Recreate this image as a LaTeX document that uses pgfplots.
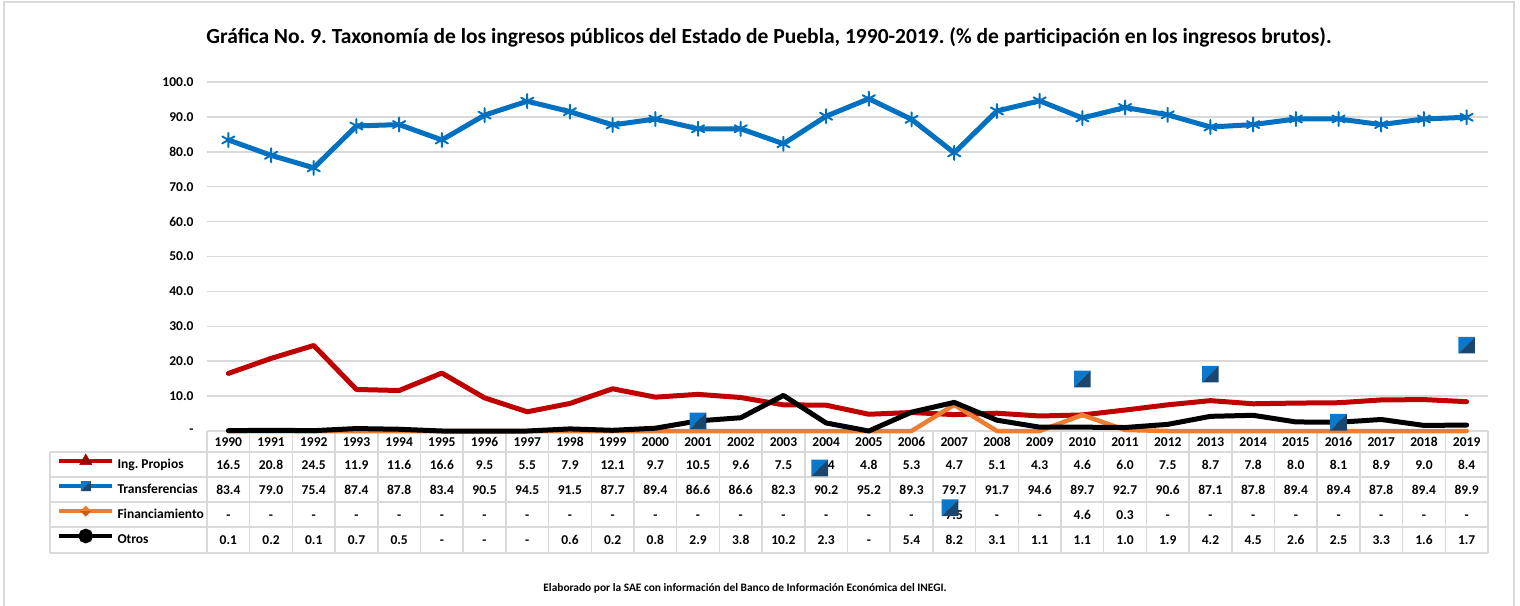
\documentclass[border=0pt]{standalone}
\usepackage{pgfplots}
\pgfplotsset{compat=1.18}
\usepackage{fontspec}
\setmainfont{Carlito}[Numbers=Lining]
\frenchspacing
\definecolor{cred}{HTML}{C00000}
\definecolor{cdred}{HTML}{A00000}
\definecolor{cblue}{HTML}{0070C0}
\definecolor{corange}{HTML}{ED7D31}
\definecolor{cdorange}{HTML}{C0601F}
\definecolor{cgrid}{HTML}{D9D9D9}
\definecolor{sqlight}{HTML}{0B78CC}
\definecolor{sqdark}{HTML}{1A4670}
\pgfdeclareplotmark{bsq}{%
  \pgfpathmoveto{\pgfpoint{-\pgfplotmarksize}{\pgfplotmarksize}}%
  \pgfpathlineto{\pgfpoint{\pgfplotmarksize}{\pgfplotmarksize}}%
  \pgfpathlineto{\pgfpoint{-\pgfplotmarksize}{-\pgfplotmarksize}}%
  \pgfpathclose
  \pgfsetfillcolor{sqlight}\pgfusepathqfill
  \pgfpathmoveto{\pgfpoint{\pgfplotmarksize}{\pgfplotmarksize}}%
  \pgfpathlineto{\pgfpoint{\pgfplotmarksize}{-\pgfplotmarksize}}%
  \pgfpathlineto{\pgfpoint{-\pgfplotmarksize}{-\pgfplotmarksize}}%
  \pgfpathclose
  \pgfsetfillcolor{sqdark}\pgfusepathqfill
}
\pgfdeclareplotmark{odiam}{%
  \pgfpathmoveto{\pgfpoint{-\pgfplotmarksize}{0pt}}%
  \pgfpathlineto{\pgfpoint{0pt}{\pgfplotmarksize}}%
  \pgfpathlineto{\pgfpoint{\pgfplotmarksize}{0pt}}%
  \pgfpathclose
  \pgfsetfillcolor{corange}\pgfusepathqfill
  \pgfpathmoveto{\pgfpoint{-\pgfplotmarksize}{0pt}}%
  \pgfpathlineto{\pgfpoint{0pt}{-\pgfplotmarksize}}%
  \pgfpathlineto{\pgfpoint{\pgfplotmarksize}{0pt}}%
  \pgfpathclose
  \pgfsetfillcolor{cdorange}\pgfusepathqfill
}
\newcommand{\tfont}{\fontsize{13.5}{16}\selectfont\bfseries}
\tikzset{cell/.style={font=\tfont, anchor=base, inner sep=0pt}}
\begin{document}
\begin{tikzpicture}
\useasboundingbox (0pt,0pt) rectangle (1520pt,-605pt);
\begin{scope}[x=1pt,y=-1pt]
  % outer frame
  \draw[cgrid, line width=1.5pt] (4,620) -- (4,2) -- (1514,2) -- (1514,620);
  % title
  \node[font=\fontsize{21.5}{24}\selectfont\bfseries] at (769,37) {Gráfica No. 9. Taxonomía de los ingresos públicos del Estado de Puebla, 1990-2019. (\% de participación en los ingresos brutos).};
  % footer
  \node[font=\fontsize{11.4}{13}\selectfont\bfseries] at (745,588) {Elaborado por la SAE con información del Banco de Información Económica del INEGI.};
  % table grid
  \draw[cgrid, line width=1.5pt] (207,431) -- (1488,431);
  \foreach \yy in {452,477,502,527,553} {\draw[cgrid, line width=1.5pt] (50,\yy) -- (1488,\yy);}
  \draw[cgrid, line width=1.5pt] (50,452) -- (50,553);
  \foreach \i in {0,...,30} {\draw[cgrid, line width=1.5pt] ({207+42.7*\i},431) -- ({207+42.7*\i},553);}
  % table text (baseline = row centre + 4.5)
  \foreach \v [count=\i from 0] in {1990,1991,1992,1993,1994,1995,1996,1997,1998,1999,2000,2001,2002,2003,2004,2005,2006,2007,2008,2009,2010,2011,2012,2013,2014,2015,2016,2017,2018,2019}
    {\node[cell] at ({228.35+42.7*\i},446) {\v};}
  \foreach \v [count=\i from 0] in {16.5,20.8,24.5,11.9,11.6,16.6,9.5,5.5,7.9,12.1,9.7,10.5,9.6,7.5,7.4,4.8,5.3,4.7,5.1,4.3,4.6,6.0,7.5,8.7,7.8,8.0,8.1,8.9,9.0,8.4}
    {\node[cell] at ({228.35+42.7*\i},469) {\v};}
  \foreach \v [count=\i from 0] in {83.4,79.0,75.4,87.4,87.8,83.4,90.5,94.5,91.5,87.7,89.4,86.6,86.6,82.3,90.2,95.2,89.3,79.7,91.7,94.6,89.7,92.7,90.6,87.1,87.8,89.4,89.4,87.8,89.4,89.9}
    {\node[cell] at ({228.35+42.7*\i},494) {\v};}
  \foreach \v [count=\i from 0] in {-,-,-,-,-,-,-,-,-,-,-,-,-,-,-,-,-,7.5,-,-,4.6,0.3,-,-,-,-,-,-,-,-}
    {\node[cell] at ({228.35+42.7*\i},519) {\v};}
  \foreach \v [count=\i from 0] in {0.1,0.2,0.1,0.7,0.5,-,-,-,0.6,0.2,0.8,2.9,3.8,10.2,2.3,-,5.4,8.2,3.1,1.1,1.1,1.0,1.9,4.2,4.5,2.6,2.5,3.3,1.6,1.7}
    {\node[cell] at ({228.35+42.7*\i},544.5) {\v};}
\end{scope}
\begin{axis}[
  at={(207pt,-431pt)}, anchor=south west,
  scale only axis, width=1281pt, height=349pt,
  xmin=-0.5, xmax=29.5, ymin=0, ymax=100,
  clip=false,
  axis line style={draw=none},
  tick style={draw=none},
  xtick=\empty,
  ytick={0,10,...,100},
  yticklabels={-\hspace{7pt},10.0,20.0,30.0,40.0,50.0,60.0,70.0,80.0,90.0,100.0},
  yticklabel style={font=\tfont, anchor=east, xshift=-10pt},
  ymajorgrids,
  grid style={cgrid, line width=1.5pt},
  legend style={at={(-0.11710,-0.06017)}, anchor=north west, draw=none, fill=none,
    inner sep=0pt, outer sep=0pt, row sep=0pt,
    nodes={inner sep=0pt, minimum height=25pt, font=\tfont, anchor=west},
    /tikz/every odd column/.append style={column sep=3pt}},
  legend cell align=left,
  legend image code/.code={\draw[mark repeat=2,mark phase=2,#1] plot coordinates {(0pt,3.5pt) (26.5pt,3.5pt) (53pt,3.5pt)};},
]
\addlegendimage{cred, line width=4.5pt, mark=triangle*, mark size=7pt, mark options={cdred, fill=cdred, line width=0.5pt}}
\addlegendentry{Ing. Propios}
\addlegendimage{cblue, line width=4.5pt, mark=bsq, mark size=5pt}
\addlegendentry{Transferencias}
\addlegendimage{corange, line width=4.5pt, mark=odiam, mark size=5.5pt}
\addlegendentry{Financiamiento}
\addlegendimage{black, line width=4.5pt, mark=*, mark size=5pt, mark options={fill=black}}
\addlegendentry{Otros}
% Ing. Propios
\addplot[cred, line width=5pt, forget plot, line join=round, line cap=round] coordinates {
(0,16.5) (1,20.8) (2,24.5) (3,11.9) (4,11.6) (5,16.6) (6,9.5) (7,5.5) (8,7.9) (9,12.1)
(10,9.7) (11,10.5) (12,9.6) (13,7.5) (14,7.4) (15,4.8) (16,5.3) (17,4.7) (18,5.1) (19,4.3)
(20,4.6) (21,6.0) (22,7.5) (23,8.7) (24,7.8) (25,8.0) (26,8.1) (27,8.9) (28,9.0) (29,8.4)};
% Transferencias
\addplot[cblue, line width=5pt, forget plot, line join=round, line cap=round, mark=asterisk, mark size=7pt, mark options={line width=2pt}] coordinates {
(0,83.4) (1,79.0) (2,75.4) (3,87.4) (4,87.8) (5,83.4) (6,90.5) (7,94.5) (8,91.5) (9,87.7)
(10,89.4) (11,86.6) (12,86.6) (13,82.3) (14,90.2) (15,95.2) (16,89.3) (17,79.7) (18,91.7) (19,94.6)
(20,89.7) (21,92.7) (22,90.6) (23,87.1) (24,87.8) (25,89.4) (26,89.4) (27,87.8) (28,89.4) (29,89.9)};
% Financiamiento
\addplot[corange, line width=4.5pt, forget plot, line join=round, line cap=round] coordinates {
(0,0) (1,0) (2,0) (3,0) (4,0) (5,0) (6,0) (7,0) (8,0) (9,0)
(10,0) (11,0) (12,0) (13,0) (14,0) (15,0) (16,0) (17,7.5) (18,0) (19,0)
(20,4.6) (21,0.3) (22,0) (23,0) (24,0) (25,0) (26,0) (27,0) (28,0) (29,0)};
% Otros
\addplot[black, line width=5pt, forget plot, line join=round, line cap=round] coordinates {
(0,0.1) (1,0.2) (2,0.1) (3,0.7) (4,0.5) (5,0) (6,0) (7,0) (8,0.6) (9,0.2)
(10,0.8) (11,2.9) (12,3.8) (13,10.2) (14,2.3) (15,0) (16,5.4) (17,8.2) (18,3.1) (19,1.1)
(20,1.1) (21,1.0) (22,1.9) (23,4.2) (24,4.5) (25,2.6) (26,2.5) (27,3.3) (28,1.6) (29,1.7)};
% stray square markers
\addplot[only marks, mark=bsq, mark size=8.3pt, forget plot] coordinates {
(11,2.9) (13.85,-10.6) (16.9,-22) (20,14.9) (23,16.3) (26,2.5) (29,24.6)};
\end{axis}
\end{tikzpicture}
\end{document}
